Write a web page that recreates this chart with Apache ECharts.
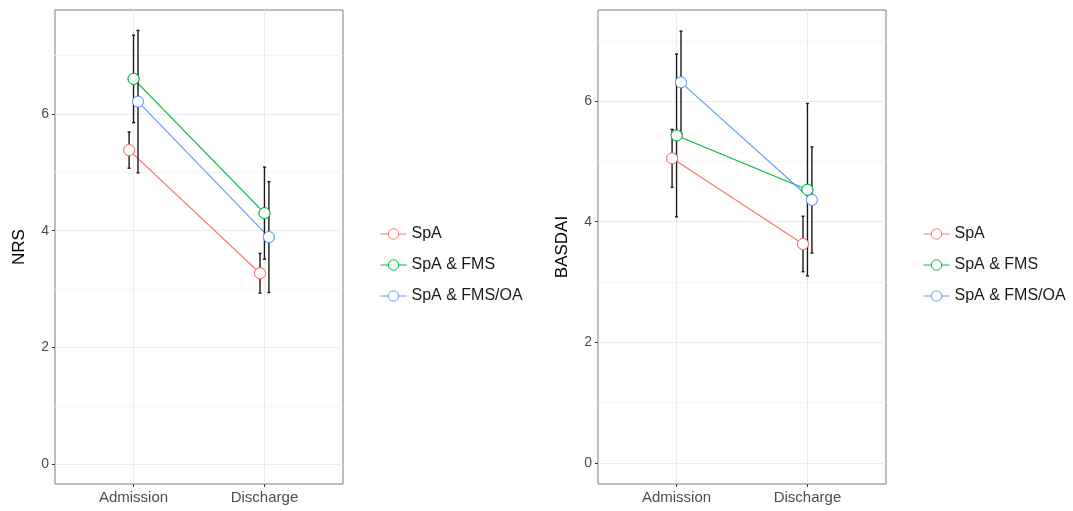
<!DOCTYPE html>
<html>
<head>
<meta charset="utf-8">
<script src="https://cdn.jsdelivr.net/npm/echarts@6/dist/echarts.min.js"></script>
<style>
  html, body { margin: 0; padding: 0; background: #fff; }
  #chart { width: 1073px; height: 511px; }
</style>
</head>
<body>
<div id="chart"></div>
<script>
// data
const categories = ['Admission', 'Discharge'];
const groups = ['SpA', 'SpA & FMS', 'SpA & FMS/OA'];
const groupColors = ['#F8766D', '#00BA38', '#619CFF'];

// mean per group, [Admission, Discharge]
const nrsMean = [[5.38, 3.27], [6.60, 4.30], [6.21, 3.89]];
const nrsSd = [[0.31, 0.34], [0.75, 0.79], [1.22, 0.95]];
const basdaiMean = [[5.05, 3.63], [5.43, 4.53], [6.31, 4.36]];
const basdaiSd = [[0.48, 0.46], [1.35, 1.43], [0.85, 0.88]];

const yTicks = [0, 2, 4, 6];

const dodge = 0.034;   // position_dodge offset between groups
const font = 'Liberation Sans, Arial, sans-serif';

const chart = echarts.init(document.getElementById('chart'));

function xAxisFor(gi) {
  return {
    type: 'value', gridIndex: gi, min: 0.4, max: 2.6,
    axisLine: { show: false, onZero: false },
    axisTick: { show: true, length: 3, customValues: [1, 2], lineStyle: { color: '#333', width: 1 } },
    axisLabel: {
      customValues: [1, 2], margin: 6, color: '#4d4d4d', fontSize: 15, fontFamily: font,
      formatter: v => categories[Math.round(v) - 1]
    },
    splitLine: { show: true, lineStyle: { color: '#ebebeb', width: 1 } }
  };
}

function yAxisFor(gi, name, min, max) {
  return {
    type: 'value', gridIndex: gi, min: min, max: max,
    name: name, nameLocation: 'middle', nameRotate: 90, nameGap: 27,
    nameTextStyle: { color: '#000', fontSize: 17, fontFamily: font },
    axisLine: { show: false, onZero: false },
    axisTick: { show: true, length: 3, customValues: yTicks, lineStyle: { color: '#333', width: 1 } },
    axisLabel: { customValues: yTicks, margin: 6, color: '#4d4d4d', fontSize: 14, fontFamily: font },
    splitLine: { show: true, lineStyle: { color: '#ebebeb', width: 1 } },
    minorTick: { show: false, splitNumber: 2 },
    minorSplitLine: { show: true, lineStyle: { color: '#f5f5f5', width: 1 } }
  };
}

function errorBarRender(params, api) {
  const x = api.value(0);
  const hi = api.coord([x, api.value(1) + api.value(2)]);
  const lo = api.coord([x, api.value(1) - api.value(2)]);
  const cap = 1.5;
  const style = { stroke: '#1a1a1a', lineWidth: 1.4 };
  return {
    type: 'group',
    children: [
      { type: 'line', shape: { x1: hi[0], y1: hi[1], x2: lo[0], y2: lo[1] }, style: style },
      { type: 'line', shape: { x1: hi[0] - cap, y1: hi[1], x2: hi[0] + cap, y2: hi[1] }, style: style },
      { type: 'line', shape: { x1: lo[0] - cap, y1: lo[1], x2: lo[0] + cap, y2: lo[1] }, style: style }
    ]
  };
}

function panelSeries(gi, means, sds) {
  const lines = [], bars = [], points = [];
  groups.forEach((g, k) => {
    const off = (k - 1) * dodge;
    const xy = means[k].map((m, i) => [i + 1 + off, m]);
    lines.push({
      name: g, type: 'line', xAxisIndex: gi, yAxisIndex: gi, z: 2,
      data: xy, symbol: 'circle', symbolSize: 11, showSymbol: true,
      lineStyle: { color: groupColors[k], width: 1.2 },
      itemStyle: { color: '#fff', borderColor: groupColors[k], borderWidth: 1 },
      emphasis: { disabled: true }, animation: false
    });
    bars.push({
      name: g, type: 'custom', xAxisIndex: gi, yAxisIndex: gi, z: 3,
      renderItem: errorBarRender,
      data: means[k].map((m, i) => [i + 1 + off, m, sds[k][i]]),
      animation: false
    });
    points.push({
      name: g, type: 'scatter', xAxisIndex: gi, yAxisIndex: gi, z: 4,
      data: xy, symbol: 'circle', symbolSize: 11,
      itemStyle: { color: '#fff', borderColor: groupColors[k], borderWidth: 1, opacity: 1 },
      emphasis: { disabled: true }, animation: false
    });
  });
  return lines.concat(bars, points);
}

function legendAt(left) {
  return {
    data: groups, orient: 'vertical', left: left, top: 221,
    itemWidth: 26, itemHeight: 13, itemGap: 15,
    lineStyle: { width: 1 },
    itemStyle: { borderWidth: 1 },
    textStyle: { color: '#1a1a1a', fontSize: 16, fontFamily: font },
    selectedMode: false
  };
}

chart.setOption({
  backgroundColor: '#fff',
  animation: false,
  grid: [
    { left: 55, top: 10, width: 288, height: 474, show: true, borderColor: '#7f7f7f', borderWidth: 1, backgroundColor: 'transparent' },
    { left: 598, top: 10, width: 288, height: 474, show: true, borderColor: '#7f7f7f', borderWidth: 1, backgroundColor: 'transparent' }
  ],
  xAxis: [xAxisFor(0), xAxisFor(1)],
  yAxis: [yAxisFor(0, 'NRS', -0.34, 7.78), yAxisFor(1, 'BASDAI', -0.35, 7.51)],
  legend: [legendAt(375), legendAt(918)],
  series: panelSeries(0, nrsMean, nrsSd).concat(panelSeries(1, basdaiMean, basdaiSd))
});

window.addEventListener('resize', () => chart.resize());
</script>
</body>
</html>
